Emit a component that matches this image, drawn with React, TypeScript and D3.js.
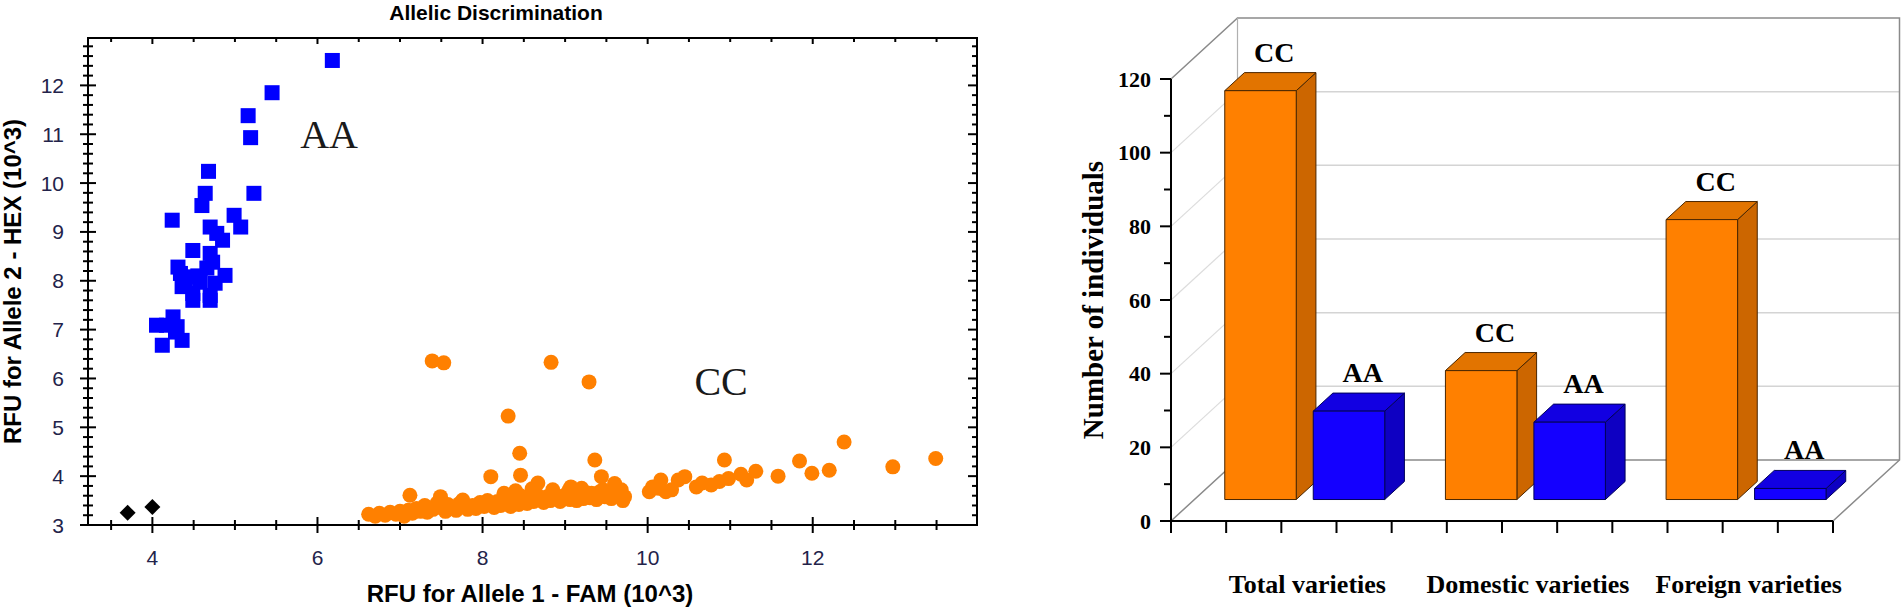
import React from 'react';
import * as d3 from 'd3';

// ---- scatter data (RFU x10^3) ----
const aaPoints: [number, number][] = [
  [6.18, 12.51], [5.45, 11.85], [5.16, 11.38], [5.19, 10.93], [4.68, 10.24],
  [5.23, 9.79], [4.64, 9.79], [4.6, 9.54], [4.24, 9.24], [4.99, 9.34],
  [5.07, 9.1], [4.7, 9.1], [4.85, 8.83], [4.78, 8.97], [4.49, 8.62],
  [4.7, 8.56], [4.73, 8.38], [4.31, 8.28], [4.88, 8.11], [4.66, 8.26],
  [4.42, 8.08], [4.36, 7.88], [4.58, 7.97], [4.76, 7.95], [4.49, 7.74],
  [4.7, 7.7], [4.49, 7.6], [4.7, 7.6], [4.05, 7.09], [4.25, 7.26],
  [4.3, 7.06], [4.36, 6.78], [4.12, 6.68], [4.17, 7.09], [4.28, 6.95],
  [4.4, 8.0], [4.55, 8.1], [4.34, 8.15],
];

const ccPoints: [number, number][] = [
  // outliers
  [7.39, 6.36], [7.53, 6.32], [8.83, 6.33], [9.29, 5.93], [8.31, 5.23],
  [8.45, 4.47], [8.1, 3.99], [8.46, 4.02], [9.36, 4.33], [7.12, 3.61],
  [12.38, 4.7], [13.49, 4.36], [12.97, 4.19], [11.84, 4.31], [11.99, 4.06],
  [12.2, 4.12], [11.58, 4.0], [11.31, 4.1], [11.13, 4.04], [11.2, 3.92],
  [10.93, 4.33], [10.98, 3.95], [10.87, 3.89], [10.77, 3.82], [10.66, 3.86],
  [10.59, 3.78], [10.45, 3.99], [10.37, 3.92], [10.29, 3.72], [10.16, 3.92],
  [10.14, 3.75], [10.06, 3.78], [10.02, 3.68], [10.22, 3.68],
  [9.44, 3.99], [9.6, 3.85], [9.68, 3.72], [9.72, 3.58], [9.32, 3.65],
  [9.05, 3.72], [8.93, 3.58], [9.46, 3.72], [9.53, 3.65],
  // main cluster
  [6.62, 3.22], [6.7, 3.18], [6.75, 3.24], [6.82, 3.2], [6.88, 3.26],
  [6.95, 3.22], [7.0, 3.28], [7.05, 3.18], [7.1, 3.3], [7.15, 3.24],
  [7.2, 3.34], [7.25, 3.28], [7.3, 3.4], [7.33, 3.26], [7.4, 3.32],
  [7.45, 3.45], [7.5, 3.36], [7.55, 3.28], [7.58, 3.42], [7.62, 3.36],
  [7.68, 3.3], [7.72, 3.44], [7.78, 3.38], [7.82, 3.32], [7.88, 3.4],
  [7.92, 3.34], [7.97, 3.46], [8.02, 3.38], [8.06, 3.5], [8.1, 3.42],
  [8.14, 3.36], [8.18, 3.48], [8.22, 3.4], [8.26, 3.52], [8.3, 3.44],
  [8.34, 3.38], [8.38, 3.56], [8.4, 3.48], [8.44, 3.42], [8.46, 3.6],
  [8.5, 3.5], [8.54, 3.44], [8.58, 3.56], [8.62, 3.48], [8.66, 3.62],
  [8.7, 3.52], [8.74, 3.46], [8.78, 3.58], [8.82, 3.5], [8.86, 3.54],
  [8.9, 3.6], [8.94, 3.48], [8.98, 3.56], [9.02, 3.64], [9.06, 3.52],
  [9.1, 3.58], [9.14, 3.5], [9.18, 3.62], [9.22, 3.54], [9.26, 3.66],
  [9.3, 3.56], [9.34, 3.6], [9.38, 3.52], [9.42, 3.68], [9.48, 3.58],
  [9.52, 3.62], [9.56, 3.54], [9.62, 3.66], [9.66, 3.6], [9.7, 3.5],
  [7.49, 3.58], [7.76, 3.51], [8.67, 3.86], [9.07, 3.78], [8.85, 3.72],
  [8.6, 3.74], [8.4, 3.7], [9.2, 3.75], [8.26, 3.65],
];

const ntcPoints: [number, number][] = [[3.7, 3.25], [4.0, 3.37]];

const xTickValues = [4, 6, 8, 10, 12];
const yTickValues = [3, 4, 5, 6, 7, 8, 9, 10, 11, 12];

// ---- bar chart data ----
const categories = ['Total varieties', 'Domestic varieties', 'Foreign varieties'];
const genotypes = ['CC', 'AA'];
const ccCounts = [111, 35, 76];
const aaCounts = [24, 21, 3];
const countTicks = [0, 20, 40, 60, 80, 100, 120];

const SANS = '"Liberation Sans", Arial, sans-serif';
const SERIF = '"Liberation Serif", "Times New Roman", serif';

const Scatter: React.FC = () => {
  const x = d3.scaleLinear().domain([3.22, 13.99]).range([88, 977]);
  const y = d3.scaleLinear().domain([3, 12.97]).range([525, 38]);
  const [x0, x1] = x.range();
  const [yb, yt] = y.range();
  const xMinor = d3.range(3.5, 14, 0.5);
  const yMinor = d3.range(3, 12.95, 0.2);
  const isMajorX = (v: number) => Math.abs(v / 2 - Math.round(v / 2)) < 1e-6;
  const isMajorY = (v: number) => Math.abs(v - Math.round(v)) < 1e-6;

  return (
    <g>
      <text x={496} y={20} textAnchor="middle" fontFamily={SANS} fontWeight="bold" fontSize={21}>
        Allelic Discrimination
      </text>
      <rect x={x0} y={yt} width={x1 - x0} height={yb - yt} fill="none" stroke="#000" strokeWidth={2} />
      {/* bottom & top ticks */}
      {xMinor.map((v) => {
        const m = isMajorX(v);
        return (
          <g key={'xt' + v}>
            <line x1={x(v)} x2={x(v)} y1={yb - (m ? 8 : 5)} y2={yb + (m ? 8 : 5)} stroke="#000" strokeWidth={2} />
            <line x1={x(v)} x2={x(v)} y1={yt} y2={yt + (m ? 6 : 4)} stroke="#000" strokeWidth={2} />
          </g>
        );
      })}
      {/* left & right ticks */}
      {yMinor.map((v) => {
        const m = isMajorY(v);
        return (
          <g key={'yt' + v}>
            <line x1={x0 - (m ? 8 : 5)} x2={x0 + (m ? 8 : 5)} y1={y(v)} y2={y(v)} stroke="#000" strokeWidth={2} />
            <line x1={x1 - (m ? 9 : 5)} x2={x1} y1={y(v)} y2={y(v)} stroke="#000" strokeWidth={2} />
          </g>
        );
      })}
      {xTickValues.map((v) => (
        <text key={'xl' + v} x={x(v)} y={565} textAnchor="middle" fontFamily={SANS} fontSize={21} fill="#23234a">
          {v}
        </text>
      ))}
      {yTickValues.map((v) => (
        <text key={'yl' + v} x={64} y={y(v)} dy="0.36em" textAnchor="end" fontFamily={SANS} fontSize={21} fill="#23234a">
          {v}
        </text>
      ))}
      <text x={530} y={602} textAnchor="middle" fontFamily={SANS} fontWeight="bold" fontSize={24}>
        RFU for Allele 1 - FAM (10^3)
      </text>
      <text transform={`translate(21,${(yb + yt) / 2}) rotate(-90)`} textAnchor="middle" fontFamily={SANS} fontWeight="bold" fontSize={24}>
        RFU for Allele 2 - HEX (10^3)
      </text>
      {/* markers */}
      {ccPoints.map(([a, b], i) => (
        <circle key={'c' + i} cx={x(a)} cy={y(b)} r={7.5} fill="#FF8000" />
      ))}
      {aaPoints.map(([a, b], i) => (
        <rect key={'a' + i} x={x(a) - 7.5} y={y(b) - 7.5} width={15} height={15} fill="#0000FF" />
      ))}
      {ntcPoints.map(([a, b], i) => (
        <path key={'n' + i} d={`M${x(a)},${y(b) - 8}L${x(a) + 8},${y(b)}L${x(a)},${y(b) + 8}L${x(a) - 8},${y(b)}Z`} fill="#000" />
      ))}
      <text x={x(6.14)} y={y(10.71)} textAnchor="middle" fontFamily={SERIF} fontSize={40} fill="#1a1a1a">AA</text>
      <text x={x(10.89)} y={y(5.66)} textAnchor="middle" fontFamily={SERIF} fontSize={40} fill="#1a1a1a">CC</text>
    </g>
  );
};

const Bars3D: React.FC = () => {
  const yB = d3.scaleLinear().domain([0, 120]).range([521, 79]);
  const xG = d3.scaleBand().domain(categories).range([1171, 1833]);
  const xS = d3.scaleBand().domain(genotypes).range([0, xG.bandwidth()]).paddingInner(0.192).paddingOuter(0.343);
  const DX = 66.5;
  const DY = -61;
  const f0 = 0.352;
  const f1 = 0.648;
  const P = (px: number, v: number, f: number) => [px + f * DX, yB(v) + f * DY];
  const poly = (pts: number[][]) => pts.map((p) => p.join(',')).join(' ');
  const [ax0, ax1] = xG.range();

  const faces = {
    CC: { front: '#FF8000', top: '#E27400', side: '#CC6600', stroke: '#4a2600' },
    AA: { front: '#1400FF', top: '#1200E2', side: '#0E00C2', stroke: '#00005a' },
  } as Record<string, { front: string; top: string; side: string; stroke: string }>;

  const bars = categories.flatMap((c, i) =>
    genotypes.map((g) => ({ c, g, v: g === 'CC' ? ccCounts[i] : aaCounts[i] }))
  );

  const minor = d3.range(10, 120, 20);
  const xTicks = categories.flatMap((c) => d3.range(0, 4).map((k) => (xG(c) as number) + (k * xG.bandwidth()) / 4)).concat([ax1]);

  return (
    <g>
      {/* walls */}
      {countTicks.slice(1, -1).map((v) => (
        <g key={'g' + v}>
          <line x1={P(ax0, v, 0)[0]} y1={P(ax0, v, 0)[1]} x2={P(ax0, v, 1)[0]} y2={P(ax0, v, 1)[1]} stroke="#dcdcdc" strokeWidth={1.2} />
          <line x1={P(ax0, v, 1)[0]} y1={P(ax0, v, 1)[1]} x2={P(ax1, v, 1)[0]} y2={P(ax1, v, 1)[1]} stroke="#d4d4d4" strokeWidth={1.5} />
        </g>
      ))}
      <polyline points={poly([P(ax0, 120, 0), P(ax0, 120, 1), P(ax1, 120, 1), P(ax1, 0, 1), P(ax1, 0, 0)])} fill="none" stroke="#8a8a8a" strokeWidth={1.5} />
      <polyline points={poly([P(ax0, 0, 0), P(ax0, 0, 1), P(ax1, 0, 1)])} fill="none" stroke="#8a8a8a" strokeWidth={1.5} />
      <line x1={P(ax0, 0, 1)[0]} y1={P(ax0, 0, 1)[1]} x2={P(ax0, 120, 1)[0]} y2={P(ax0, 120, 1)[1]} stroke="#b0b0b0" strokeWidth={1.2} />
      {/* bars */}
      {bars.map((b) => {
        const bx0 = (xG(b.c) as number) + (xS(b.g) as number);
        const bx1 = bx0 + xS.bandwidth();
        const st = faces[b.g];
        const front = [P(bx0, 0, f0), P(bx1, 0, f0), P(bx1, b.v, f0), P(bx0, b.v, f0)];
        const top = [P(bx0, b.v, f0), P(bx1, b.v, f0), P(bx1, b.v, f1), P(bx0, b.v, f1)];
        const side = [P(bx1, 0, f0), P(bx1, b.v, f0), P(bx1, b.v, f1), P(bx1, 0, f1)];
        const lbl = P((bx0 + bx1) / 2, b.v, 0.5);
        return (
          <g key={b.c + b.g}>
            <polygon points={poly(side)} fill={st.side} stroke={st.stroke} strokeWidth={1} strokeLinejoin="round" />
            <polygon points={poly(top)} fill={st.top} stroke={st.stroke} strokeWidth={1} strokeLinejoin="round" />
            <polygon points={poly(front)} fill={st.front} stroke={st.stroke} strokeWidth={1} strokeLinejoin="round" />
            <text x={lbl[0] + 4} y={P(0, b.v, f1)[1] - 11} textAnchor="middle" fontFamily={SERIF} fontWeight="bold" fontSize={28}>
              {b.g}
            </text>
          </g>
        );
      })}
      {/* axes */}
      <line x1={ax0} x2={ax0} y1={yB(120)} y2={yB(0)} stroke="#000" strokeWidth={2} />
      <line x1={ax0} x2={ax1} y1={yB(0)} y2={yB(0)} stroke="#000" strokeWidth={2} />
      {countTicks.map((v) => (
        <g key={'yt' + v}>
          <line x1={ax0 - 11} x2={ax0} y1={yB(v)} y2={yB(v)} stroke="#000" strokeWidth={2} />
          <text x={1151} y={yB(v)} dy="0.35em" textAnchor="end" fontFamily={SERIF} fontWeight="bold" fontSize={22}>
            {v}
          </text>
        </g>
      ))}
      {minor.map((v) => (
        <line key={'ym' + v} x1={ax0 - 7} x2={ax0} y1={yB(v)} y2={yB(v)} stroke="#000" strokeWidth={2} />
      ))}
      {xTicks.map((t, i) => (
        <line key={'xt' + i} x1={t} x2={t} y1={yB(0)} y2={yB(0) + 12} stroke="#000" strokeWidth={2} />
      ))}
      {categories.map((c) => (
        <text key={c} x={(xG(c) as number) + xG.bandwidth() / 2 + 26} y={593} textAnchor="middle" fontFamily={SERIF} fontWeight="bold" fontSize={26}>
          {c}
        </text>
      ))}
      <text transform="translate(1103,300) rotate(-90)" textAnchor="middle" fontFamily={SERIF} fontWeight="bold" fontSize={29}>
        Number of individuals
      </text>
    </g>
  );
};

export default function App() {
  return (
    <svg
      width={1901}
      height={608}
      viewBox="0 0 1901 608"
      style={{ position: 'absolute', left: 0, top: 0, background: '#fff' }}
    >
      <rect width={1901} height={608} fill="#fff" />
      <Scatter />
      <Bars3D />
    </svg>
  );
}
